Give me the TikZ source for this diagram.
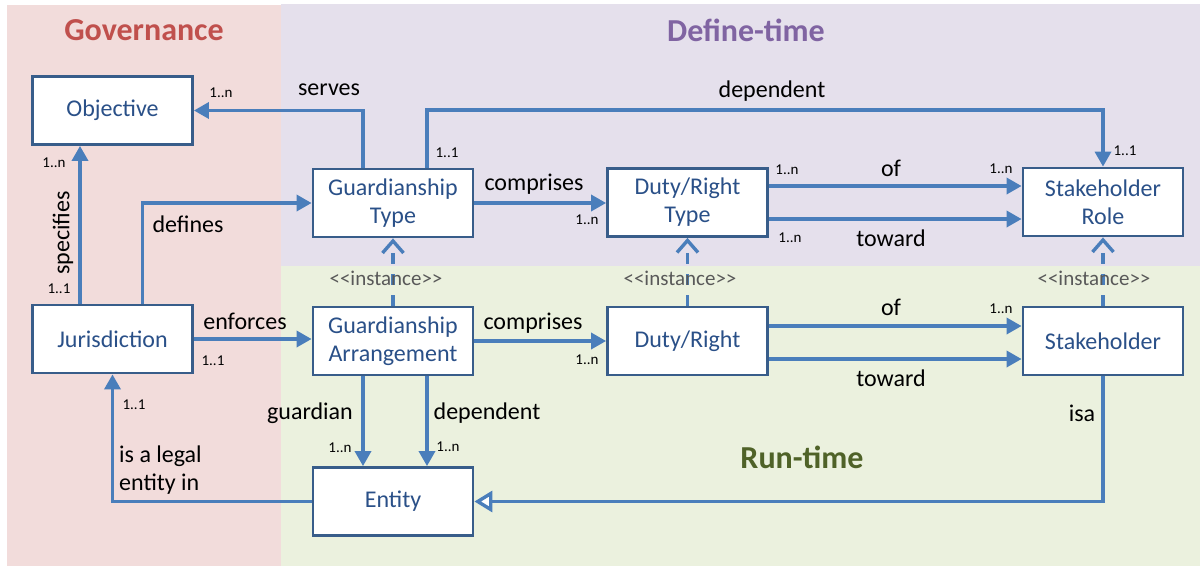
\documentclass[tikz,border=0pt]{standalone}
\usepackage{fontspec}
\setmainfont{Carlito}
\usetikzlibrary{arrows.meta}
\definecolor{govbg}{HTML}{F2DCDB}
\definecolor{defbg}{HTML}{E5E0EC}
\definecolor{runbg}{HTML}{EBF1DE}
\definecolor{govtitle}{HTML}{C0504D}
\definecolor{deftitle}{HTML}{8064A2}
\definecolor{runtitle}{HTML}{4F6228}
\definecolor{boxline}{HTML}{385D8A}
\definecolor{boxtext}{HTML}{2A5088}
\definecolor{linkblue}{HTML}{4A7EBB}
\definecolor{instgray}{HTML}{595959}
\newcommand{\instancetag}{{<}{<}instance{>}{>}}
\tikzset{
  classbox/.style={draw=boxline, line width=2.8pt, fill=white,
    minimum width=160pt, minimum height=68pt, inner sep=0pt,
    align=center, text=boxtext, font=\fontsize{24}{28}\selectfont},
  conn/.style={draw=linkblue, line width=3.4pt,
    -{Triangle[length=15pt,width=16pt]}},
  instof/.style={draw=linkblue, line width=3.4pt, dash pattern=on 11pt off 10pt,
    -{Straight Barb[length=12pt,width=21pt]}},
  isalink/.style={draw=linkblue, line width=3.4pt,
    -{Triangle[open,fill=white,length=18pt,width=21pt]}},
  lbl/.style={font=\fontsize{24}{28}\selectfont, text=black, inner sep=0pt},
  mult/.style={font=\fontsize{15}{18}\selectfont, text=black, inner sep=0pt},
  instlbl/.style={font=\fontsize{21}{24}\selectfont, text=instgray, inner sep=0pt},
  zonetitle/.style={font=\fontsize{32}{36}\selectfont\bfseries, inner sep=0pt},
}
\begin{document}
\begin{tikzpicture}[x=1pt,y=-1pt]
\useasboundingbox (0,0) rectangle (1200,566);
% zones
\fill[govbg] (7,5) rectangle (281,566);
\fill[defbg] (281,4) rectangle (1200,266);
\fill[runbg] (281,266) rectangle (1200,566);
\node[zonetitle, text=govtitle] (tgov) at (144,30) {Governance};
\node[zonetitle, text=deftitle] (tdef) at (746,30) {Define-time};
\node[zonetitle, text=runtitle] (trun) at (802,457) {Run-time};

% classes
\node[classbox] (obj) at (112.5,110.5) {Objective};
\node[classbox] (gt)  at (393,203) {Guardianship\\Type};
\node[classbox] (drt) at (687.5,202.5) {Duty/Right\\Type};
\node[classbox] (sr)  at (1103,202) {Stakeholder\\Role};
\node[classbox] (jur) at (112.5,339) {Jurisdiction};
\node[classbox] (ga)  at (393,341) {Guardianship\\Arrangement};
\node[classbox] (dr)  at (687.5,341) {Duty/Right};
\node[classbox] (sh)  at (1103,341) {Stakeholder};
\node[classbox] (ent) at (393,501.5) {Entity};

\coordinate (deptop) at (0,110);

% associations
\draw[conn] ([xshift=-30pt]gt.north) |- (obj.east);
\draw[conn] ([xshift=-32.5pt]jur.north) -- ([xshift=-32.5pt]obj.south);
\draw[conn] ([xshift=30pt]jur.north) |- (gt.west);
\draw[conn] ([xshift=34pt]gt.north) coordinate (dstart) -- (dstart |- deptop) -| (sr.north);
\draw[conn] (gt.east) -- (gt.east -| drt.west);
\draw[conn] ([yshift=16.5pt]drt.east) -- ([yshift=16.5pt]drt.east -| sr.west);
\draw[conn] ([yshift=-16.5pt]drt.east) -- ([yshift=-16.5pt]drt.east -| sr.west);
\draw[conn] (jur.east) -- (jur.east -| ga.west);
\draw[conn] (ga.east) -- (ga.east -| dr.west);
\draw[conn] ([yshift=15pt]dr.east) -- ([yshift=15pt]dr.east -| sh.west);
\draw[conn] ([yshift=-18pt]dr.east) -- ([yshift=-18pt]dr.east -| sh.west);
\draw[conn] ([xshift=-30pt]ga.south) -- ([xshift=-30pt]ent.north);
\draw[conn] ([xshift=34pt]ga.south) -- ([xshift=34pt]ent.north);
\draw[conn] (ent.west) -| (jur.south);
\draw[isalink] (sh.south) |- (ent.east);

% instance-of links
\draw[instof] (ga.north) -- (gt.south);
\draw[instof] (dr.north) -- (drt.south);
\draw[instof] (sh.north) -- (sr.south);
\node[instlbl] (i1) at (386,278) {\instancetag};
\node[instlbl] (i2) at (680,278) {\instancetag};
\node[instlbl] (i3) at (1094,278) {\instancetag};

% role names
\node[lbl] (lserves) at (329,90) {serves};
\node[lbl, rotate=90] (lspec) at (63,233) {specifies};
\node[lbl] (ldefines) at (188,224) {defines};
\node[lbl] (ldep1) at (772,91) {dependent};
\node[lbl] (lcomp1) at (534,184) {comprises};
\node[lbl] (lof1) at (891,168) {of};
\node[lbl] (ltow1) at (891,238) {toward};
\node[lbl] (lenf) at (245,321) {enforces};
\node[lbl] (lcomp2) at (533,323) {comprises};
\node[lbl] (lof2) at (891,307) {of};
\node[lbl] (ltow2) at (891,378) {toward};
\node[lbl] (lisa) at (1082,413) {isa};
\node[lbl] (lguard) at (310,413) {guardian};
\node[lbl] (ldep2) at (487,413) {dependent};
\node[lbl, align=left, anchor=west] (llegal) at (119,470) {is a legal\\entity in};

% multiplicities
\node[mult] (m1) at (221,93) {1..n};
\node[mult] (m2) at (54,163) {1..n};
\node[mult] (m3) at (59,289) {1..1};
\node[mult] (m4) at (447,153) {1..1};
\node[mult] (m5) at (1125,151) {1..1};
\node[mult] (m6) at (587,220) {1..n};
\node[mult] (m7) at (787,170) {1..n};
\node[mult] (m8) at (1001,169) {1..n};
\node[mult] (m9) at (790,238) {1..n};
\node[mult] (m10) at (213,361) {1..1};
\node[mult] (m11) at (587,360) {1..n};
\node[mult] (m12) at (1001,309) {1..n};
\node[mult] (m13) at (340,448) {1..n};
\node[mult] (m14) at (448,447) {1..n};
\node[mult] (m15) at (134,405) {1..1};
\end{tikzpicture}
\end{document}
